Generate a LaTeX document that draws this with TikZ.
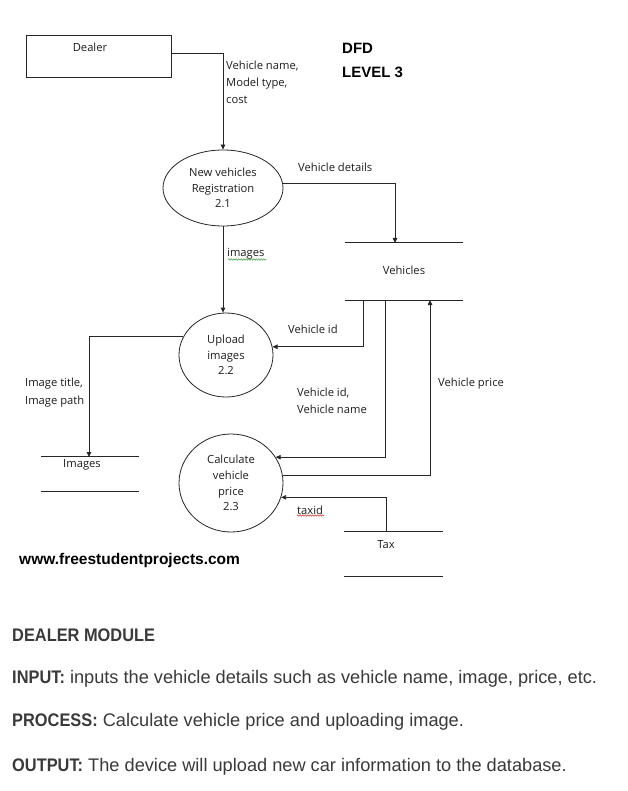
\documentclass[tikz,border=0pt]{standalone}
\usepackage{fontspec}
\setmainfont{Open Sans}
\newfontfamily\arialfont{Liberation Sans}
\usetikzlibrary{shapes.geometric,arrows.meta,decorations.pathmorphing}
\definecolor{txtgray}{HTML}{3A3A3A}
\definecolor{dtext}{HTML}{1E1E1E}
\definecolor{spellgreen}{HTML}{3C9A3C}
\definecolor{spellred}{HTML}{D03030}
\newcommand{\bodybold}[1]{\scalebox{0.9}[1]{\bfseries #1}}
\begin{document}
\begin{tikzpicture}[x=1pt,y=-1pt,
  flow/.style={draw=black!85, line width=0.8pt, -{Triangle[length=5pt,width=4.5pt]}},
  storeline/.style={draw=black!85, line width=0.8pt},
  lbl/.style={font=\fontsize{11.2}{17}\selectfont, text=dtext, align=left, anchor=west, inner sep=0},
  ctxt/.style={font=\fontsize{11.2}{13}\selectfont, text=dtext, inner sep=0},
  proc/.style={ellipse, draw=black!85, line width=0.8pt, inner sep=0, text=dtext, font=\fontsize{11.2}{15.5}\selectfont, align=center},
  storebox/.style={inner sep=0, minimum width=#1},
  title/.style={font=\arialfont\bfseries\fontsize{15}{18}\selectfont, anchor=west, inner sep=0},
  body/.style={font=\arialfont\fontsize{18.2}{20}\selectfont, text=txtgray, anchor=west, inner sep=0},
  wavy/.style={decorate, decoration={snake, amplitude=0.7pt, segment length=2.5pt}, line width=0.5pt}
]
\useasboundingbox[fill=white] (0,0) rectangle (627,791);

% external entity
\node[draw=black!85, line width=0.8pt, minimum width=145pt, minimum height=42pt, inner sep=0] (dealer) at (98.5,56) {};
\node[ctxt] (dealertxt) at (90,47) {Dealer};

% processes
\node[proc, minimum width=120pt, minimum height=76pt] (e1) at (223,188) {New vehicles\\Registration\\2.1};
\node[proc, minimum width=94pt, minimum height=84pt] (e2) at (226,355) {Upload\\images\\2.2};
\node[proc, minimum width=104pt, minimum height=98pt, font=\fontsize{11.2}{15.7}\selectfont] (e3) at (231,483) {Calculate\\vehicle\\price\\2.3};

% data stores
\node[storebox=118pt, minimum height=57pt] (veh) at (404,271.5) {};
\node[ctxt] (vehtxt) at (404,270) {Vehicles};
\draw[storeline] (veh.north west) -- (veh.north east) (veh.south west) -- (veh.south east);

\node[storebox=98pt, minimum height=34pt] (img) at (90,474) {};
\node[ctxt] (imgtxt) at (82,465) {Images};
\draw[storeline] (img.north west) -- (img.north east) (img.south west) -- (img.south east);

\node[storebox=99pt, minimum height=44pt] (tax) at (393.5,554) {};
\node[ctxt] (taxtxt) at (386,545) {Tax};
\draw[storeline] (tax.north west) -- (tax.north east) (tax.south west) -- (tax.south east);

% connector end points on stores
\coordinate (vehin) at (395,243);
\coordinate (vidout) at (363,300);
\coordinate (vnout) at (385,300);
\coordinate (vpin) at (430,300);
\coordinate (imgin) at (89,457);
\coordinate (taxout) at (386,532);

% flows
\draw[flow] (dealer.2) -| (e1.north);
\draw[flow] (e1.4) -| (vehin);
\draw[flow] (e1.south) -- (e1.south |- e2.north);
\draw[flow] (vidout) |- (e2.10);
\draw[flow] (vnout) |- (e3.30);
\draw[flow] (e3.8) -| (vpin);
\draw[flow] (taxout) |- (e3.-16);
\draw[flow] (e2.157) -| (imgin);

% flow labels
\node[lbl] (l1) at (226,82.5) {Vehicle name,\\Model type,\\cost};
\node[lbl] (l2) at (298,167) {Vehicle details};
\node[lbl] (l3) at (227,254) {images};
\draw[wavy, spellgreen] (228,259.5) -- (266,259.5);
\node[lbl] (l4) at (288,329) {Vehicle id};
\node[lbl, font=\fontsize{11.2}{18}\selectfont] (l5) at (25,393) {Image title,\\Image path};
\node[lbl] (l6) at (297,400.5) {Vehicle id,\\Vehicle name};
\node[lbl] (l7) at (438,384) {Vehicle price};
\node[lbl] (l8) at (297,510) {taxid};
\draw[wavy, spellred] (297,515.5) -- (324,515.5);

% titles
\node[title] (dfd) at (342,48) {DFD};
\node[title] (lvl) at (342,72) {LEVEL 3};
\node[title, font=\arialfont\bfseries\fontsize{15.5}{18}\selectfont] (www) at (19,560) {www.freestudentprojects.com};

% description
\node[body] (dm) at (12,635) {\bodybold{DEALER MODULE}};
\node[body] (inp) at (12,679) {\bodybold{INPUT:} inputs the vehicle details such as vehicle name, image, price, etc.};
\node[body] (prc) at (12,722) {\bodybold{PROCESS:} Calculate vehicle price and uploading image.};
\node[body] (out) at (12,767) {\bodybold{OUTPUT:} The device will upload new car information to the database.};
\end{tikzpicture}
\end{document}
